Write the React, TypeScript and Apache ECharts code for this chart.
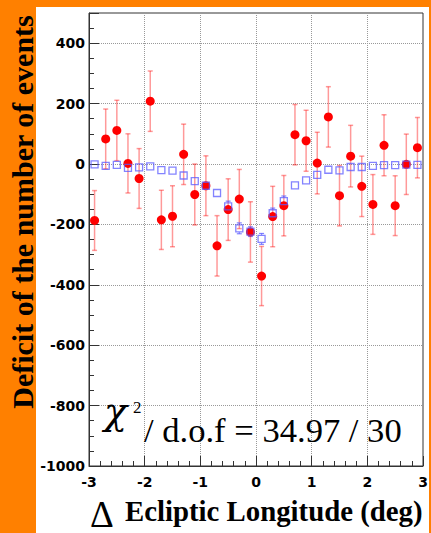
import React, { useEffect, useRef } from 'react';
import * as echarts from 'echarts';

const binCenters = [-2.9, -2.7, -2.5, -2.3, -2.1, -1.9, -1.7, -1.5, -1.3, -1.1, -0.9, -0.7, -0.5, -0.3, -0.1, 0.1, 0.3, 0.5, 0.7, 0.9, 1.1, 1.3, 1.5, 1.7, 1.9, 2.1, 2.3, 2.5, 2.7, 2.9];
const dataDeficit = [-187, 83, 111, 2, -48, 208, -185, -173, 32, -101, -72, -271, -151, -116, -225, -371, -174, -138, 97, 77, 3, 156, -105, 26, -74, -134, 62, -138, -1, 54];
const dataErrors = [99, 99, 100, 98, 99, 100, 98, 101, 100, 101, 99, 100, 102, 98, 100, 98, 100, 100, 100, 101, 102, 100, 100, 102, 100, 99, 101, 99, 100, 100];
const mcDeficit = [-1, -6, -3, -13, -11, -8, -20, -22, -38, -57, -72, -96, -140, -213, -224, -248, -163, -123, -71, -54, -36, -19, -21, -10, -10, -6, -4, -4, -2, -3];
const mcErrors = [6, 6, 6, 7, 7, 7, 8, 8, 9, 10, 10, 11, 17, 18, 16, 18, 17, 17, 11, 10, 9, 8, 8, 7, 7, 7, 6, 6, 6, 6];

const yTitle = 'Deficit of the number of events';
const xTitle = 'Ecliptic Longitude (deg)';
const chiRest = '/ d.o.f = 34.97 / 30';

const RED_ERR = 'rgba(255,0,0,0.4)';
const BLUE = 'rgba(90,90,255,0.75)';

function errorRenderer(color: string, capHalf: number, width: number, gap: number) {
  return (params: any, api: any) => {
    const x = api.value(0);
    const c = api.value(1);
    const lo = api.value(2);
    const hi = api.value(3);
    const top = api.coord([x, hi]);
    const bot = api.coord([x, lo]);
    const mid = api.coord([x, c]);
    const style = { stroke: color, lineWidth: width, fill: 'none' };
    const children: any[] = [];
    if (top[1] < mid[1] - gap) {
      children.push({ type: 'line', shape: { x1: top[0], y1: top[1], x2: top[0], y2: mid[1] - gap }, style });
      children.push({ type: 'line', shape: { x1: top[0] - capHalf, y1: top[1], x2: top[0] + capHalf, y2: top[1] }, style });
    }
    if (bot[1] > mid[1] + gap) {
      children.push({ type: 'line', shape: { x1: bot[0], y1: mid[1] + gap, x2: bot[0], y2: bot[1] }, style });
      children.push({ type: 'line', shape: { x1: bot[0] - capHalf, y1: bot[1], x2: bot[0] + capHalf, y2: bot[1] }, style });
    }
    return { type: 'group', children };
  };
}

export default function App() {
  const ref = useRef<HTMLDivElement>(null);
  useEffect(() => {
    if (!ref.current) return;
    const chart = echarts.init(ref.current, undefined, { renderer: 'svg' });
    const redErr = binCenters.map((x, i) => [x, dataDeficit[i], dataDeficit[i] - dataErrors[i], dataDeficit[i] + dataErrors[i]]);
    const blueErr = binCenters.map((x, i) => [x, mcDeficit[i], mcDeficit[i] - mcErrors[i], mcDeficit[i] + mcErrors[i]]);
    const redPts = binCenters.map((x, i) => [x, dataDeficit[i]]);
    const bluePts = binCenters.map((x, i) => [x, mcDeficit[i]]);
    const tickLabel = { fontFamily: 'DejaVu Sans', fontWeight: 'bold' as const, fontSize: 14, color: '#000' };
    const option: any = {
      animation: false,
      backgroundColor: '#ff8000',
      grid: { left: 89, right: 8, top: 13, bottom: 67, show: true, backgroundColor: '#fff', borderColor: '#333', borderWidth: 1 },
      xAxis: {
        type: 'value', min: -3, max: 3, interval: 1,
        axisLine: { show: true, onZero: false, lineStyle: { color: '#333' } },
        axisTick: { show: true, inside: true, length: 10, lineStyle: { color: '#333' } },
        minorTick: { show: true, splitNumber: 5, length: 5, lineStyle: { color: '#333' } },
        splitLine: { show: true, lineStyle: { type: 'dotted', color: '#999' } },
        axisLabel: { ...tickLabel, margin: 9 },
      },
      yAxis: [
        {
          type: 'value', min: -1000, max: 500, interval: 200,
          axisLine: { show: true, onZero: false, lineStyle: { color: '#333' } },
          axisTick: { show: true, inside: true, length: 10, lineStyle: { color: '#333' } },
          splitLine: { show: true, lineStyle: { type: 'dotted', color: '#999' } },
          axisLabel: { ...tickLabel, margin: 4, formatter: (v: number) => (v === 500 ? '' : String(v)) },
        },
        {
          type: 'value', min: -1000, max: 500, interval: 50, position: 'left', offset: 0,
          axisLine: { show: false, onZero: false },
          axisTick: { show: true, inside: true, length: 5, lineStyle: { color: '#333' } },
          axisLabel: { show: false },
          splitLine: { show: false },
        },
      ],
      graphic: [
        { type: 'rect', silent: true, z: -100, shape: { x: 36, y: 7, width: 393, height: 526 }, style: { fill: '#fff' } },
        {
          type: 'text', z: 100, x: 22, y: 212, rotation: Math.PI / 2,
          style: { text: yTitle, fontFamily: 'Liberation Serif', fontWeight: 'bold', fontSize: 30, fill: '#000', textAlign: 'center', align: 'center', textVerticalAlign: 'middle', verticalAlign: 'middle' },
        },
        {
          type: 'text', z: 100, x: 90, y: 514,
          style: { text: '\u0394', fontFamily: 'Liberation Serif', fontSize: 37, fill: '#000', textAlign: 'left', align: 'left', textVerticalAlign: 'middle', verticalAlign: 'middle' },
        },
        {
          type: 'text', z: 100, x: 125, y: 511,
          style: { text: xTitle, fontFamily: 'Liberation Serif', fontWeight: 'bold', fontSize: 28.8, fill: '#000', textAlign: 'left', align: 'left', textVerticalAlign: 'middle', verticalAlign: 'middle' },
        },
        {
          type: 'text', z: 100, x: 104, y: 411,
          style: { text: '\u03c7', fontFamily: 'DejaVu Serif', fontStyle: 'italic', fontSize: 38, fill: '#000', textAlign: 'left', align: 'left', textVerticalAlign: 'middle', verticalAlign: 'middle' },
        },
        {
          type: 'text', z: 100, x: 133, y: 407,
          style: { text: '2', fontFamily: 'Liberation Serif', fontSize: 17, fill: '#000', textAlign: 'left', align: 'left', textVerticalAlign: 'middle', verticalAlign: 'middle' },
        },
        {
          type: 'text', z: 100, x: 144, y: 430,
          style: { text: chiRest, fontFamily: 'Liberation Serif', fontSize: 34.6, fill: '#000', textAlign: 'left', align: 'left', textVerticalAlign: 'middle', verticalAlign: 'middle' },
        },
      ],
      series: [
        { type: 'custom', name: 'data error', data: redErr, encode: { x: 0, y: [2, 3] }, renderItem: errorRenderer(RED_ERR, 2.5, 1.5, 3), z: 2, silent: true },
        { type: 'custom', name: 'mc error', data: blueErr, encode: { x: 0, y: [2, 3] }, renderItem: errorRenderer(BLUE, 2.5, 1.2, 4), z: 2, silent: true },
        { type: 'scatter', name: 'data', data: redPts, symbol: 'circle', symbolSize: 9, itemStyle: { color: '#ff0000', opacity: 1 }, z: 3 },
        { type: 'scatter', name: 'mc', data: bluePts, symbol: 'rect', symbolSize: 7, itemStyle: { color: 'rgba(0,0,0,0)', borderColor: BLUE, borderWidth: 1.3, opacity: 1 }, z: 4 },
      ],
    };
    chart.setOption(option);
    return () => chart.dispose();
  }, []);
  return <div ref={ref} style={{ position: 'fixed', left: 0, top: 0, width: 431, height: 533 }} />;
}
